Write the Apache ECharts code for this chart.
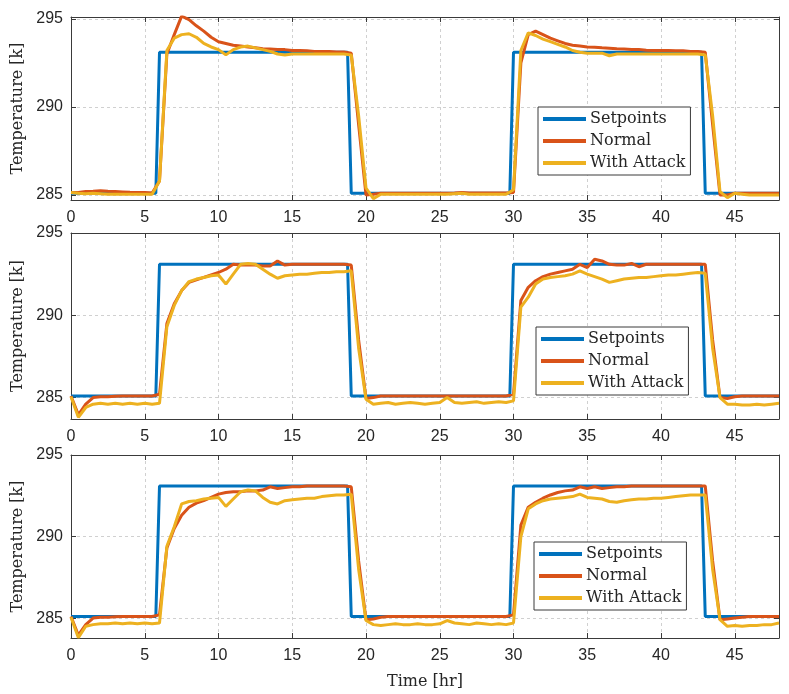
<!DOCTYPE html>
<html>
<head>
<meta charset="utf-8">
<script src="https://cdn.jsdelivr.net/npm/echarts@6/dist/echarts.min.js"></script>
<style>
html, body { margin: 0; padding: 0; background: #fff; }
#main { width: 789px; height: 694px; }
</style>
</head>
<body>
<div id="main"></div>
<script>
// sample times [hr]
var hours = [
    0, 0.5, 1, 1.5, 2, 2.5, 3, 3.5, 4, 4.5,
    5, 5.5, 6, 6.5, 7, 7.5, 8, 8.5, 9, 9.5,
    10, 10.5, 11, 11.5, 12, 12.5, 13, 13.5, 14, 14.5,
    15, 15.5, 16, 16.5, 17, 17.5, 18, 18.5, 19, 19.5,
    20, 20.5, 21, 21.5, 22, 22.5, 23, 23.5, 24, 24.5,
    25, 25.5, 26, 26.5, 27, 27.5, 28, 28.5, 29, 29.5,
    30, 30.5, 31, 31.5, 32, 32.5, 33, 33.5, 34, 34.5,
    35, 35.5, 36, 36.5, 37, 37.5, 38, 38.5, 39, 39.5,
    40, 40.5, 41, 41.5, 42, 42.5, 43, 43.5, 44, 44.5,
    45, 45.5, 46, 46.5, 47, 47.5, 48
];

// setpoint breakpoints
var setHours = [0, 5.75, 6, 18.75, 19, 29.75, 30, 42.75, 43, 48];
var setTemp = [285.1, 285.1, 293.1, 293.1, 285.1, 285.1, 293.1, 293.1, 285.1, 285.1];

var xTicks = [0, 5, 10, 15, 20, 25, 30, 35, 40, 45];
var yTicks = [285, 290, 295];

var topNormal = [
    285.15, 285.15, 285.2, 285.22, 285.25, 285.22, 285.2, 285.18, 285.16, 285.15,
    285.15, 285.12, 285.8, 293.0, 294.1, 295.15, 294.95, 294.6, 294.3, 293.95,
    293.7, 293.6, 293.5, 293.45, 293.4, 293.35, 293.3, 293.28, 293.25, 293.25,
    293.2, 293.2, 293.18, 293.15, 293.15, 293.15, 293.12, 293.12, 293.05, 289.0,
    285.0, 285.05, 285.1, 285.1, 285.1, 285.1, 285.1, 285.1, 285.1, 285.1,
    285.1, 285.1, 285.12, 285.15, 285.12, 285.12, 285.12, 285.12, 285.12, 285.12,
    285.15, 292.5, 294.1, 294.3, 294.1, 293.9, 293.75, 293.6, 293.5, 293.45,
    293.4, 293.38, 293.35, 293.33, 293.3, 293.28, 293.25, 293.25, 293.22, 293.2,
    293.2, 293.2, 293.18, 293.18, 293.15, 293.15, 293.1, 289.0, 285.0, 285.0,
    285.1, 285.1, 285.1, 285.1, 285.1, 285.1, 285.1
];
var topAttack = [
    285.15, 285.1, 285.08, 285.1, 285.08, 285.05, 285.05, 285.05, 285.05, 285.05,
    285.05, 285.05, 285.8, 293.2, 293.9, 294.1, 294.15, 293.95, 293.6, 293.4,
    293.25, 292.95, 293.25, 293.4, 293.45, 293.35, 293.25, 293.15, 293.0, 292.95,
    293.0, 293.0, 293.0, 293.0, 293.0, 293.0, 293.0, 293.0, 292.95, 289.5,
    285.4, 284.8, 285.05, 285.05, 285.05, 285.05, 285.05, 285.05, 285.05, 285.05,
    285.05, 285.05, 285.08, 285.1, 285.05, 285.05, 285.05, 285.05, 285.05, 285.05,
    285.3, 293.2, 294.2, 294.05, 293.85, 293.7, 293.55, 293.4, 293.2, 293.1,
    293.05, 293.05, 293.05, 292.9, 293.0, 293.0, 293.0, 293.0, 293.0, 293.0,
    293.0, 293.0, 293.0, 293.0, 293.0, 293.0, 292.95, 289.5, 285.2, 284.85,
    285.1, 285.05, 285.0, 285.0, 285.0, 285.0, 285.0
];

var midNormal = [
    285.1, 283.95, 284.6, 285.0, 285.05, 285.05, 285.08, 285.1, 285.1, 285.1,
    285.1, 285.1, 285.2, 289.5, 290.7, 291.5, 292.0, 292.15, 292.3, 292.45,
    292.6, 292.8, 293.1, 293.05, 293.05, 293.05, 293.0, 293.0, 293.3, 293.05,
    293.1, 293.1, 293.1, 293.1, 293.1, 293.1, 293.1, 293.1, 293.05, 288.5,
    284.95, 285.0, 285.1, 285.1, 285.1, 285.1, 285.1, 285.1, 285.1, 285.1,
    285.1, 285.1, 285.1, 285.1, 285.1, 285.1, 285.1, 285.1, 285.1, 285.1,
    285.2, 290.9, 291.7, 292.1, 292.35, 292.5, 292.6, 292.7, 292.8, 293.1,
    292.9, 293.4, 293.3, 293.1, 293.05, 293.05, 293.15, 292.95, 293.1, 293.1,
    293.1, 293.1, 293.1, 293.1, 293.1, 293.1, 293.1, 288.5, 285.0, 284.95,
    285.05, 285.1, 285.1, 285.1, 285.1, 285.1, 285.1
];
var midAttack = [
    285.05, 283.8, 284.4, 284.6, 284.65, 284.6, 284.65, 284.6, 284.65, 284.6,
    284.65, 284.6, 284.65, 289.3, 290.6, 291.5, 292.05, 292.2, 292.3, 292.4,
    292.45, 291.9, 292.5, 293.1, 293.15, 293.1, 292.8, 292.5, 292.25, 292.4,
    292.45, 292.5, 292.5, 292.55, 292.6, 292.6, 292.65, 292.65, 292.7, 288.0,
    284.9, 284.6, 284.65, 284.7, 284.6, 284.65, 284.7, 284.65, 284.6, 284.65,
    284.7, 285.0, 284.7, 284.65, 284.7, 284.75, 284.65, 284.7, 284.75, 284.7,
    284.8, 290.5, 291.1, 291.9, 292.2, 292.3, 292.35, 292.4, 292.5, 292.7,
    292.5, 292.35, 292.2, 292.0, 292.1, 292.2, 292.25, 292.3, 292.3, 292.35,
    292.4, 292.45, 292.45, 292.5, 292.55, 292.6, 292.55, 288.0, 285.0, 284.6,
    284.6, 284.55, 284.55, 284.6, 284.55, 284.6, 284.65
];

var lowNormal = [
    285.1, 283.95, 284.6, 285.0, 285.05, 285.05, 285.08, 285.1, 285.1, 285.1,
    285.1, 285.1, 285.2, 289.3, 290.5, 291.3, 291.8, 292.05, 292.2, 292.4,
    292.6, 292.7, 292.75, 292.75, 292.8, 292.8, 292.85, 293.05, 292.95, 293.0,
    293.05, 293.05, 293.1, 293.1, 293.1, 293.1, 293.1, 293.1, 293.05, 288.5,
    284.9, 284.95, 285.05, 285.1, 285.1, 285.1, 285.1, 285.1, 285.1, 285.1,
    285.1, 285.1, 285.1, 285.1, 285.1, 285.1, 285.1, 285.1, 285.1, 285.1,
    285.2, 290.7, 291.8, 292.1, 292.35, 292.55, 292.7, 292.8, 292.85, 293.05,
    292.95, 293.05, 292.95, 293.0, 293.05, 293.05, 293.1, 293.1, 293.1, 293.1,
    293.1, 293.1, 293.1, 293.1, 293.1, 293.1, 293.1, 288.5, 284.9, 284.95,
    285.0, 285.05, 285.1, 285.1, 285.1, 285.1, 285.1
];
var lowAttack = [
    285.05, 283.8, 284.5, 284.6, 284.65, 284.65, 284.7, 284.65, 284.7, 284.65,
    284.7, 284.65, 284.7, 289.4, 290.6, 292.0, 292.15, 292.2, 292.3, 292.35,
    292.4, 291.85, 292.3, 292.75, 292.85, 292.8, 292.4, 292.1, 292.0, 292.2,
    292.25, 292.3, 292.35, 292.35, 292.45, 292.5, 292.55, 292.55, 292.6, 288.0,
    284.85, 284.6, 284.55, 284.6, 284.65, 284.6, 284.6, 284.65, 284.6, 284.6,
    284.65, 284.85, 284.7, 284.65, 284.6, 284.7, 284.65, 284.6, 284.65, 284.6,
    284.7, 290.0, 291.7, 292.0, 292.2, 292.3, 292.35, 292.4, 292.45, 292.6,
    292.4, 292.35, 292.3, 292.15, 292.1, 292.2, 292.25, 292.3, 292.3, 292.35,
    292.35, 292.4, 292.45, 292.5, 292.55, 292.55, 292.55, 288.0, 284.9, 284.5,
    284.55, 284.5, 284.55, 284.55, 284.6, 284.6, 284.7
];

var panels = [
    { top: 17, height: 183, yMin: 284.72, yMax: 295.1, normal: topNormal, attack: topAttack, legendTop: 107, legendLeft: 538 },
    { top: 233, height: 186, yMin: 283.7, yMax: 295, normal: midNormal, attack: midAttack, legendTop: 327, legendLeft: 536 },
    { top: 455, height: 183, yMin: 283.78, yMax: 295, normal: lowNormal, attack: lowAttack, legendTop: 542, legendLeft: 534 }
];

var colors = ['#0072BD', '#D95319', '#EDB120'];
var serif = 'DejaVu Serif';
var sans = 'Liberation Sans';
var frame = '#3a3a3a';

function pairs(xs, ys) {
    return xs.map(function (x, i) { return [x, ys[i]]; });
}

var chartDom = document.getElementById('main');
var myChart = echarts.init(chartDom);
var option = {
    animation: false,
    backgroundColor: '#fff',
    grid: [], xAxis: [], yAxis: [], series: [], legend: []
};

panels.forEach(function (p, k) {
    option.grid.push({ left: 71, top: p.top, width: 708, height: p.height, outerBoundsMode: 'none' });

    // bottom axis
    option.xAxis.push({
        type: 'value', gridIndex: k, min: 0, max: 48, position: 'bottom',
        name: k === 2 ? 'Time [hr]' : '', nameLocation: 'middle', nameGap: 36,
        nameTextStyle: { fontFamily: serif, fontSize: 16, color: '#262626' },
        axisLine: { show: true, onZero: false, lineStyle: { color: frame, width: 1 } },
        axisTick: { show: true, inside: true, length: 5, customValues: xTicks, lineStyle: { color: frame } },
        axisLabel: { customValues: xTicks, fontFamily: sans, fontSize: 16, color: '#262626', margin: 10 },
        splitLine: { show: true, lineStyle: { color: '#d0d0d0', type: [3, 3], width: 1 } }
    });
    // top axis (box)
    option.xAxis.push({
        type: 'value', gridIndex: k, min: 0, max: 48, position: 'top',
        axisLine: { show: true, onZero: false, lineStyle: { color: frame, width: 1 } },
        axisTick: { show: true, inside: true, length: 5, customValues: xTicks, lineStyle: { color: frame } },
        axisLabel: { show: false },
        splitLine: { show: false }
    });
    // left axis
    option.yAxis.push({
        type: 'value', gridIndex: k, min: p.yMin, max: p.yMax, position: 'left',
        name: 'Temperature [k]', nameLocation: 'middle', nameGap: 42, nameRotate: 90,
        nameTextStyle: { fontFamily: serif, fontSize: 16, color: '#262626' },
        axisLine: { show: true, onZero: false, lineStyle: { color: frame, width: 1 } },
        axisTick: { show: true, inside: true, length: 5, customValues: yTicks, lineStyle: { color: frame } },
        axisLabel: { customValues: yTicks, fontFamily: sans, fontSize: 16, color: '#262626', margin: 8 },
        splitLine: { show: true, lineStyle: { color: '#d0d0d0', type: [3, 3], width: 1 } }
    });
    // right axis (box)
    option.yAxis.push({
        type: 'value', gridIndex: k, min: p.yMin, max: p.yMax, position: 'right',
        axisLine: { show: true, onZero: false, lineStyle: { color: frame, width: 1 } },
        axisTick: { show: true, inside: true, length: 5, customValues: yTicks, lineStyle: { color: frame } },
        axisLabel: { show: false },
        splitLine: { show: false }
    });

    var lines = [
        { name: 'Setpoints', data: pairs(setHours, setTemp) },
        { name: 'Normal', data: pairs(hours, p.normal) },
        { name: 'With Attack', data: pairs(hours, p.attack) }
    ];
    lines.forEach(function (l, j) {
        option.series.push({
            name: l.name, type: 'line', xAxisIndex: 2 * k, yAxisIndex: 2 * k,
            data: l.data, showSymbol: false, symbol: 'none', clip: true,
            lineStyle: { color: colors[j], width: 3 }, itemStyle: { color: colors[j] }
        });
    });

    option.legend.push({
        left: p.legendLeft, top: p.legendTop, orient: 'vertical',
        data: ['Setpoints', 'Normal', 'With Attack'],
        icon: 'rect', itemWidth: 43, itemHeight: 4, itemGap: 6,
        padding: [4, 5, 4, 5],
        backgroundColor: '#fff', borderColor: frame, borderWidth: 1,
        selectedMode: false,
        textStyle: { fontFamily: serif, fontSize: 16, color: '#262626', padding: [0, 0, 0, -1] }
    });
});

option && myChart.setOption(option);
</script>
</body>
</html>
